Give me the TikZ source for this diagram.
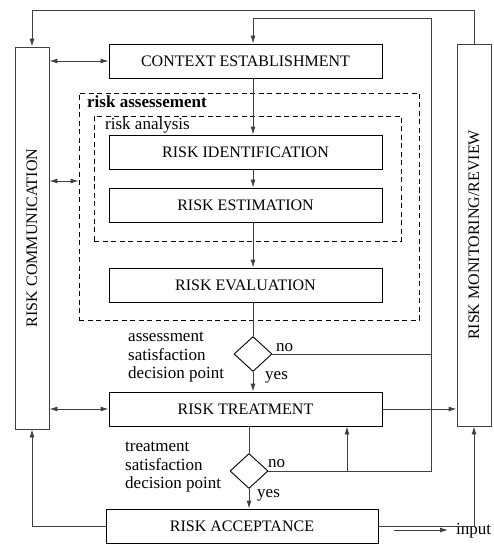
\documentclass[tikz,border=0pt]{standalone}
\usepackage{fontspec}
\setmainfont{Liberation Serif}
\usetikzlibrary{arrows.meta, shapes.geometric}

\begin{document}
\begin{tikzpicture}[
    x=1pt, y=-1pt,
    font=\fontsize{16}{18.5}\selectfont,
    box/.style={rectangle, draw, line width=0.9pt, minimum width=273pt, minimum height=34pt, inner sep=0pt},
    sidebox/.style={rectangle, draw=black!75, line width=0.9pt, minimum width=34pt, minimum height=382pt, inner sep=0pt},
    group/.style={rectangle, draw, dash pattern=on 5pt off 3.5pt, line width=0.9pt, inner sep=0pt},
    decision/.style={diamond, draw, line width=0.9pt, minimum width=38pt, minimum height=35pt, inner sep=0pt},
    note/.style={align=left, anchor=north west, inner sep=0pt, font=\fontsize{17}{18.5}\selectfont},
    tag/.style={anchor=base west, inner sep=0pt},
    line/.style={line width=0.9pt, black!75},
    arrow/.style={-{Latex[length=8pt,width=5pt]}, line width=0.9pt, black!75},
    both/.style={{Latex[length=8pt,width=5pt]}-{Latex[length=8pt,width=5pt]}, line width=0.9pt, black!75}
]
    \useasboundingbox (0,0) rectangle (493,545);

    \coordinate (fl) at (253,0);
    \coordinate (fl2) at (249,0);
    \coordinate (ret) at (431,18);
    \coordinate (top) at (0,10);
    \coordinate (up) at (347,0);

    \node[sidebox] (comm) at (32,238) {};
    \node[rotate=90] (commtxt) at (comm) {RISK COMMUNICATION};
    \node[sidebox] (mon) at (474,235) {};
    \node[rotate=90] (montxt) at (mon) {RISK MONITORING/REVIEW};

    \node[box] (ctx) at (245.5,61) {CONTEXT ESTABLISHMENT};

    \node[group, minimum width=340pt, minimum height=227pt] (assess) at (249,206.5) {};
    \node[tag, font=\fontsize{17}{18.5}\selectfont\bfseries] (assesstxt) at (87,108) {risk assessement};
    \node[group, minimum width=307pt, minimum height=125pt] (analysis) at (247.5,178.5) {};
    \node[tag, font=\fontsize{17}{18.5}\selectfont] (analysistxt) at (105,129.5) {risk analysis};

    \node[box] (ident) at (245.5,152) {RISK IDENTIFICATION};
    \node[box] (estim) at (245.5,205) {RISK ESTIMATION};
    \node[box] (eval) at (245.5,285) {RISK EVALUATION};

    \node[decision] (dec1) at (253,354) {};
    \node[note] (dec1txt) at (128,332) {assessment\\satisfaction\\decision point};
    \node[tag, font=\fontsize{17}{18.5}\selectfont] (no1) at (276,351) {no};
    \node[tag, font=\fontsize{17}{18.5}\selectfont] (yes1) at (265,379) {yes};

    \node[box] (treat) at (245.5,409) {RISK TREATMENT};

    \node[decision] (dec2) at (249,471) {};
    \node[note] (dec2txt) at (125,442) {treatment\\satisfaction\\decision point};
    \node[tag, font=\fontsize{17}{18.5}\selectfont] (no2) at (268,467) {no};
    \node[tag, font=\fontsize{17}{18.5}\selectfont] (yes2) at (257,497) {yes};

    \node[box, minimum width=272pt] (accept) at (242,526) {RISK ACCEPTANCE};

    \coordinate (lgs) at (394,530);
    \node[tag, font=\fontsize{17}{18.5}\selectfont] (inp) at (456,534) {input};

    \draw[arrow] (ctx.south -| fl) -- (ident.north -| fl);
    \draw[arrow] (ident.south -| fl) -- (estim.north -| fl);
    \draw[arrow] (estim.south -| fl) -- (eval.north -| fl);
    \draw[line] (eval.south -| fl) -- (dec1.north);
    \draw[arrow] (dec1.south) -- (treat.north -| fl);
    \draw[line] (treat.south -| fl2) -- (dec2.north);
    \draw[arrow] (dec2.south) -- (accept.north -| fl2);

    \draw[line] (dec1.east) -- (dec1.east -| ret);
    \draw[arrow] (dec2.east) -- (dec2.east -| ret) -- (ret) -- (ret -| fl) -- (ctx.north -| fl);
    \draw[arrow] (dec2.east -| up) -- (treat.south -| up);

    \draw[arrow] (mon.north) -- (mon.north |- top) -- (comm.north |- top) -- (comm.north);
    \draw[arrow] (treat.east) -- (treat.east -| mon.west);
    \draw[arrow] (accept.east) -| (mon.south);
    \draw[arrow] (accept.west) -| (comm.south);

    \draw[both] (comm.east |- ctx.west) -- (ctx.west);
    \draw[both] (comm.east |- 0,181) -- (assess.west |- 0,181);
    \draw[both] (comm.east |- treat.west) -- (treat.west);

    \draw[arrow] (lgs) -- ([xshift=-8pt]inp.west |- lgs);
\end{tikzpicture}
\end{document}
